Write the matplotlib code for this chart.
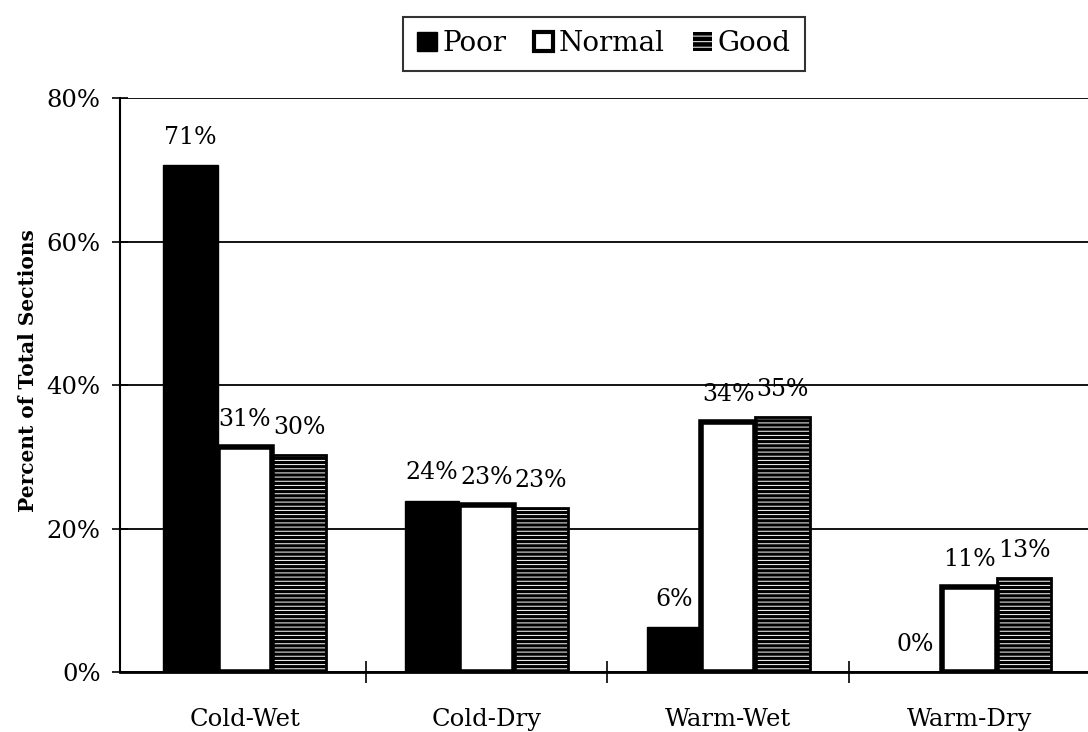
import matplotlib
matplotlib.use("Agg")
import matplotlib.pyplot as plt
import numpy as np
from matplotlib.patches import Patch

# data
climates = ["Cold-Wet", "Cold-Dry", "Warm-Wet", "Warm-Dry"]
poor = [70.7, 23.9, 6.2, 0.0]
normal = [31.3, 23.3, 34.8, 11.8]
good = [30.2, 22.8, 35.5, 13.1]
poor_labels = ["71%", "24%", "6%", "0%"]
normal_labels = ["31%", "23%", "34%", "11%"]
good_labels = ["30%", "23%", "35%", "13%"]
y_ticks = [0, 20, 40, 60, 80]

plt.rcParams['font.family'] = ['DejaVu Serif']
plt.rcParams['hatch.linewidth'] = 0.7

fig = plt.figure(figsize=(10.88, 7.32), dpi=100)
ax = fig.add_axes([0.1103, 0.082, 0.8897, 0.784])

x = np.arange(len(climates))
w = 0.225

# poor: solid black
ax.bar(x - w, poor, w, color="black", edgecolor="black", linewidth=1, zorder=3)
# normal: white with heavy outline
ax.bar(x, normal, w, color="white", edgecolor="black", linewidth=4, zorder=4)
# good: black with thin white horizontal stripes
ax.bar(x + w, good, w, color="black", edgecolor="white", hatch="----", linewidth=0, zorder=3)
ax.bar(x + w, good, w, fill=False, edgecolor="black", linewidth=2, zorder=3)

# value labels
for xs, vals, labs in [(x - w, poor, poor_labels), (x, normal, normal_labels), (x + w, good, good_labels)]:
    for xi, v, lab in zip(xs, vals, labs):
        ax.annotate(lab, (xi, v), xytext=(0, 20), textcoords="offset points",
                    ha="center", va="center", fontsize=17)

ax.set_xlim(-0.517, 3.49)
ax.set_ylim(0, 80)
ax.set_yticks(y_ticks)
ax.set_yticklabels([f"{t}%" for t in y_ticks])
ax.set_xticks(x)
ax.set_xticklabels(climates)
ax.set_xticks([0.5, 1.5, 2.5], minor=True)
ax.tick_params(axis="x", which="major", length=0, pad=26, labelsize=17.5)
ax.tick_params(axis="x", which="minor", direction="inout", length=16, width=1.2)
ax.tick_params(axis="y", direction="inout", length=12, width=1.2, labelsize=17.5, pad=8)

ax.grid(axis="y", color="black", linewidth=1.3, zorder=0)
ax.set_axisbelow(True)
for s in ["top", "right"]:
    ax.spines[s].set_visible(False)
ax.spines["left"].set_linewidth(1.5)
ax.spines["bottom"].set_linewidth(2)

fig.text(0.026, 1 - 371 / 732, "Percent of Total Sections", rotation=90,
         ha="center", va="center", fontsize=14.5, fontweight="bold")

handles = [
    Patch(facecolor="black", edgecolor="black"),
    Patch(facecolor="white", edgecolor="black", linewidth=3),
    Patch(facecolor="black", edgecolor="white", hatch="---", linewidth=0),
]
leg = fig.legend(handles, ["Poor", "Normal", "Good"], loc="center",
                 bbox_to_anchor=(0.555, 0.94), ncol=3, fontsize=20,
                 handlelength=0.7, handleheight=0.7, handletextpad=0.2,
                 columnspacing=1.0, frameon=True, fancybox=False,
                 borderpad=0.5)
leg.get_frame().set_edgecolor("black")
leg.get_frame().set_linewidth(1.5)

fig.savefig("out.png", dpi=100)
